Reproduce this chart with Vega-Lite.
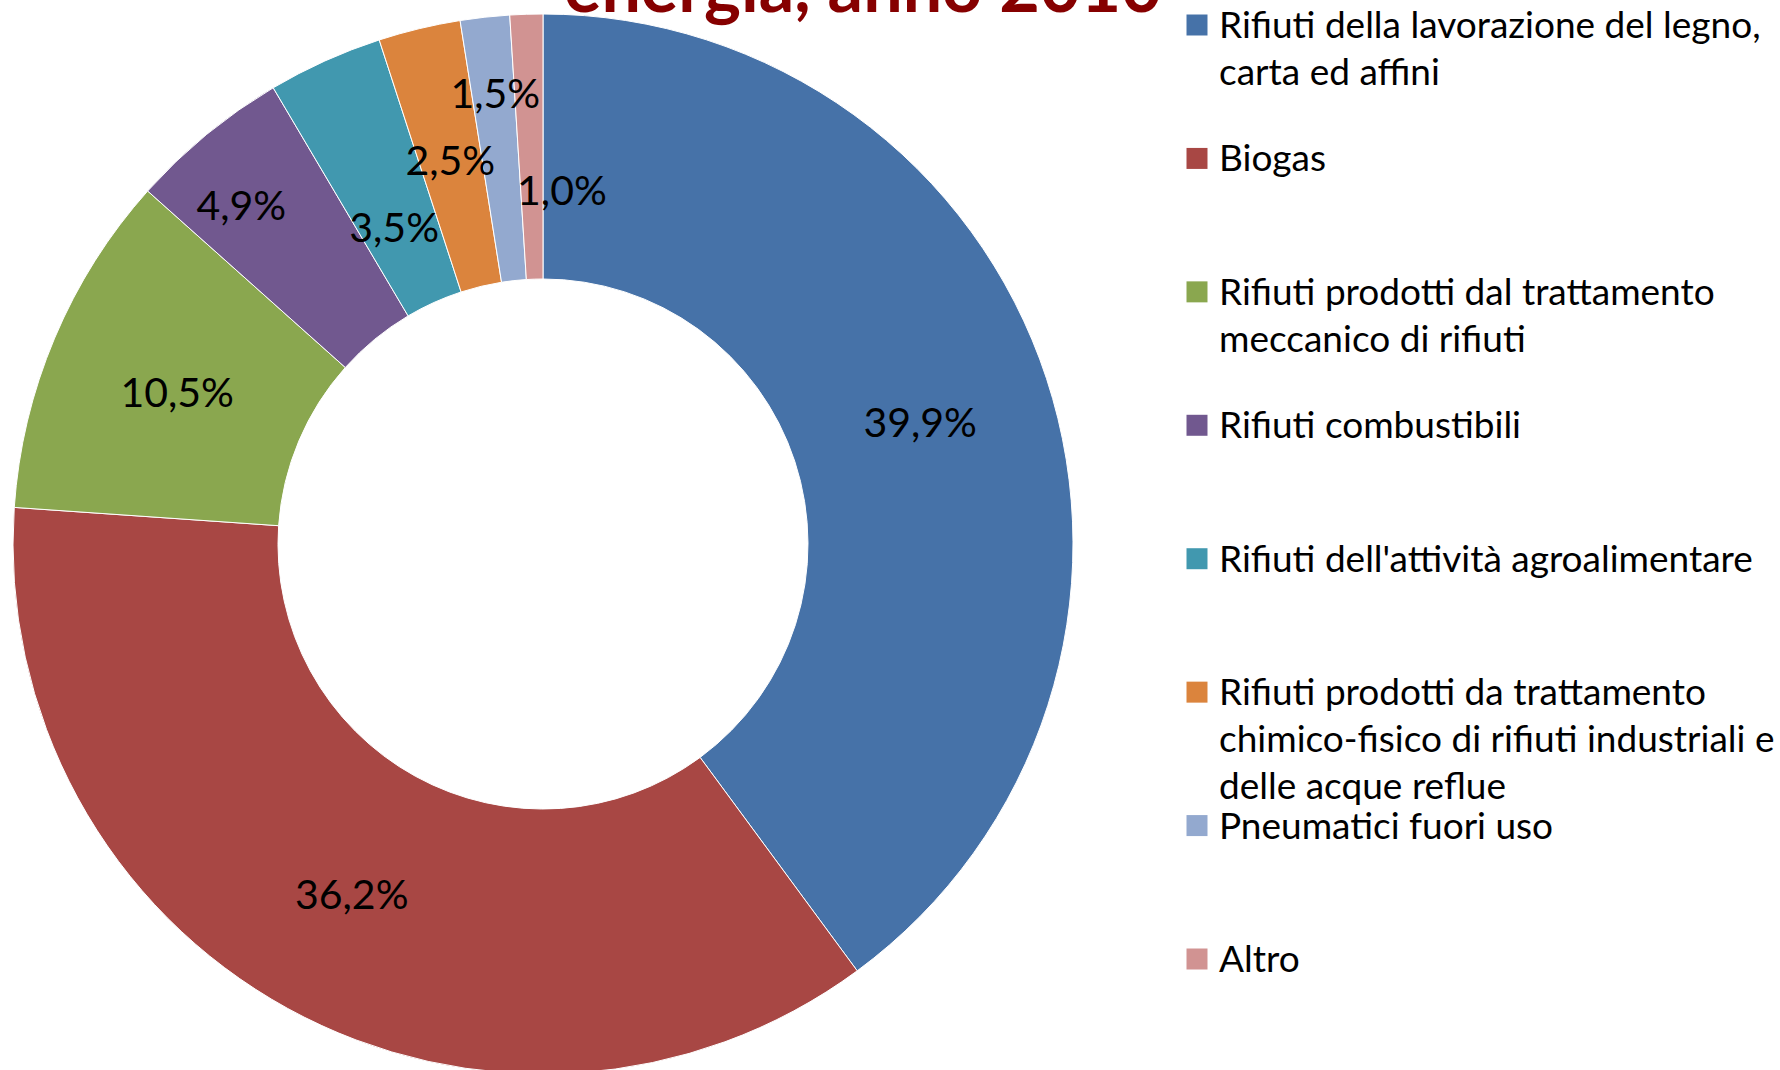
{
  "$schema": "https://vega.github.io/schema/vega-lite/v6.json",
  "width": 1086,
  "height": 1088,
  "autosize": {"type": "none"},
  "padding": {"left": 0, "top": 0, "right": 694, "bottom": 0},
  "background": "white",
  "title": {
    "text": "energia, anno 2010",
    "font": "Lato",
    "fontSize": 70,
    "fontWeight": "bold",
    "color": "#860000",
    "anchor": "start",
    "frame": "group",
    "baseline": "alphabetic",
    "offset": 0,
    "dx": 564,
    "dy": 82
  },
  "config": {"view": {"stroke": null}, "font": "Lato"},
  "data": {
    "values": [
      {"cat": "Rifiuti della lavorazione del legno,\ncarta ed affini", "pct": 39.9},
      {"cat": "Biogas", "pct": 36.2},
      {"cat": "Rifiuti prodotti dal trattamento\nmeccanico di rifiuti", "pct": 10.5},
      {"cat": "Rifiuti combustibili", "pct": 4.9},
      {"cat": "Rifiuti dell'attività agroalimentare", "pct": 3.5},
      {"cat": "Rifiuti prodotti da trattamento\nchimico-fisico di rifiuti industriali e\ndelle acque reflue", "pct": 2.5},
      {"cat": "Pneumatici fuori uso", "pct": 1.5},
      {"cat": "Altro", "pct": 1.0}
    ]
  },
  "transform": [
    {"calculate": "replace(format(datum.pct, '.1f'), '.', ',') + '%'", "as": "lbl"}
  ],
  "layer": [
    {
      "mark": {"type": "arc", "outerRadius": 530, "innerRadius": 265, "stroke": "white", "strokeWidth": 1},
      "encoding": {
        "theta": {"field": "pct", "type": "quantitative", "stack": true},
        "order": {"field": "pct", "sort": "descending"},
        "color": {
          "field": "cat", "type": "nominal", "sort": null,
          "scale": {"range": ["#4672A8", "#A84744", "#8AA74F", "#71588F", "#4198AF", "#DB843D", "#93A9CF", "#D19392"]},
          "legend": null
        }
      }
    },
    {
      "mark": {"type": "text", "radius": 397, "dy": 5, "fontSize": 41, "font": "Lato", "color": "black", "align": "center", "baseline": "middle"},
      "encoding": {
        "theta": {"field": "pct", "type": "quantitative", "stack": true},
        "order": {"field": "pct", "sort": "descending"},
        "text": {"condition": {"test": "datum.pct > 10 || datum.pct == 2.5", "field": "lbl"}, "value": ""}
      }
    },
    {
      "mark": {"type": "text", "radius": 453, "dx": 2, "dy": 2, "fontSize": 41, "font": "Lato", "color": "black", "align": "center", "baseline": "middle"},
      "encoding": {
        "theta": {"field": "pct", "type": "quantitative", "stack": true},
        "order": {"field": "pct", "sort": "descending"},
        "text": {"condition": {"test": "datum.cat == 'Pneumatici fuori uso'", "field": "lbl"}, "value": ""}
      }
    },
    {
      "mark": {"type": "text", "radius": 453, "dx": -14, "dy": 14, "fontSize": 41, "font": "Lato", "color": "black", "align": "center", "baseline": "middle"},
      "encoding": {
        "theta": {"field": "pct", "type": "quantitative", "stack": true},
        "order": {"field": "pct", "sort": "descending"},
        "text": {"condition": {"test": "datum.cat == 'Rifiuti combustibili'", "field": "lbl"}, "value": ""}
      }
    },
    {
      "mark": {"type": "text", "radius": 352, "dx": -4, "dy": 7, "fontSize": 41, "font": "Lato", "color": "black", "align": "center", "baseline": "middle"},
      "encoding": {
        "theta": {"field": "pct", "type": "quantitative", "stack": true},
        "order": {"field": "pct", "sort": "descending"},
        "text": {"condition": {"test": "datum.cat == \"Rifiuti dell'attività agroalimentare\"", "field": "lbl"}, "value": ""}
      }
    },
    {
      "mark": {"type": "text", "radius": 352, "dx": 30, "dy": 1, "fontSize": 41, "font": "Lato", "color": "black", "align": "center", "baseline": "middle"},
      "encoding": {
        "theta": {"field": "pct", "type": "quantitative", "stack": true},
        "order": {"field": "pct", "sort": "descending"},
        "text": {"condition": {"test": "datum.cat == 'Altro'", "field": "lbl"}, "value": ""}
      }
    },
    {
      "mark": {"type": "point", "shape": "square", "size": 441, "filled": true, "opacity": 1, "strokeWidth": 0},
      "encoding": {
        "x": {"value": 1197},
        "y": {"field": "cat", "type": "nominal", "sort": null, "scale": {"type": "point", "range": [25, 959], "padding": 0}, "axis": null},
        "color": {"field": "cat", "type": "nominal", "sort": null, "legend": null}
      }
    },
    {
      "mark": {"type": "text", "align": "left", "baseline": "alphabetic", "dy": 13, "fontSize": 37, "font": "Lato", "lineHeight": 47, "lineBreak": "\n", "color": "black"},
      "encoding": {
        "x": {"value": 1219},
        "y": {"field": "cat", "type": "nominal", "sort": null, "scale": {"type": "point", "range": [25, 959], "padding": 0}, "axis": null},
        "text": {"field": "cat", "type": "nominal"}
      }
    }
  ]
}
